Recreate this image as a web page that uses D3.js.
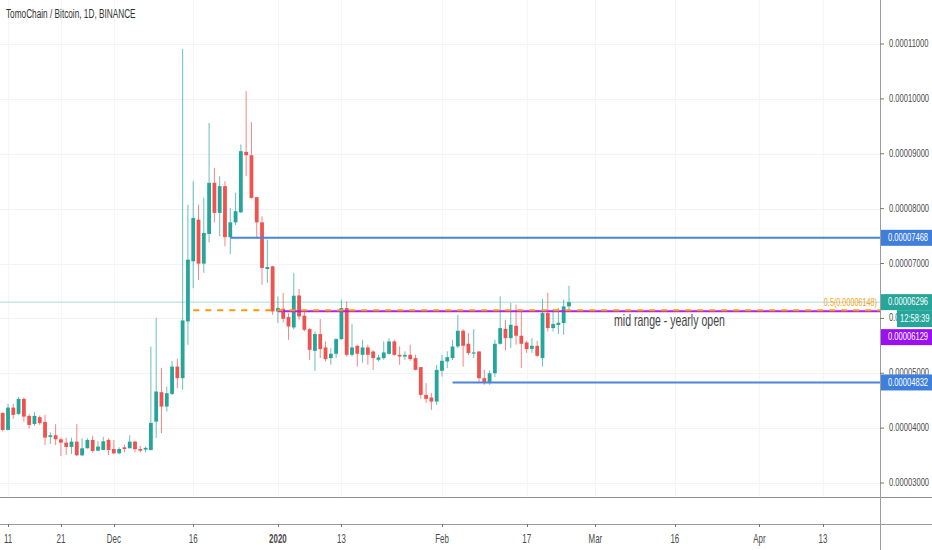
<!DOCTYPE html>
<html>
<head>
<meta charset="utf-8">
<script src="https://cdn.jsdelivr.net/npm/d3@7"></script>
<style>
  html, body { margin: 0; padding: 0; background: #fff; }
  svg { display: block; font-family: "Liberation Sans", Arial, sans-serif; }
</style>
</head>
<body>
<svg class="chart"></svg>
<script>
// daily candles, values in satoshi (1e-8 BTC)
var days = ['2019-11-10', '2019-11-11', '2019-11-12', '2019-11-13', '2019-11-14', '2019-11-15',
  '2019-11-16', '2019-11-17', '2019-11-18', '2019-11-19', '2019-11-20', '2019-11-21', '2019-11-22',
  '2019-11-23', '2019-11-24', '2019-11-25', '2019-11-26', '2019-11-27', '2019-11-28', '2019-11-29',
  '2019-11-30', '2019-12-01', '2019-12-02', '2019-12-03', '2019-12-04', '2019-12-05', '2019-12-06',
  '2019-12-07', '2019-12-08', '2019-12-09', '2019-12-10', '2019-12-11', '2019-12-12', '2019-12-13',
  '2019-12-14', '2019-12-15', '2019-12-16', '2019-12-17', '2019-12-18', '2019-12-19', '2019-12-20',
  '2019-12-21', '2019-12-22', '2019-12-23', '2019-12-24', '2019-12-25', '2019-12-26', '2019-12-27',
  '2019-12-28', '2019-12-29', '2019-12-30', '2019-12-31', '2020-01-01', '2020-01-02', '2020-01-03',
  '2020-01-04', '2020-01-05', '2020-01-06', '2020-01-07', '2020-01-08', '2020-01-09', '2020-01-10',
  '2020-01-11', '2020-01-12', '2020-01-13', '2020-01-14', '2020-01-15', '2020-01-16', '2020-01-17',
  '2020-01-18', '2020-01-19', '2020-01-20', '2020-01-21', '2020-01-22', '2020-01-23', '2020-01-24',
  '2020-01-25', '2020-01-26', '2020-01-27', '2020-01-28', '2020-01-29', '2020-01-30', '2020-01-31',
  '2020-02-01', '2020-02-02', '2020-02-03', '2020-02-04', '2020-02-05', '2020-02-06', '2020-02-07',
  '2020-02-08', '2020-02-09', '2020-02-10', '2020-02-11', '2020-02-12', '2020-02-13', '2020-02-14',
  '2020-02-15', '2020-02-16', '2020-02-17', '2020-02-18', '2020-02-19', '2020-02-20', '2020-02-21',
  '2020-02-22', '2020-02-23', '2020-02-24', '2020-02-25'];

var opens = [4277, 3967, 4374, 4259, 4533, 4223, 4076, 4199, 4113, 3840, 3870, 3797, 3735, 3657,
  3754, 3505, 3633, 3785, 3590, 3602, 3785, 3620, 3541, 3650, 3633, 3754, 3620, 3608, 3602, 4119,
  4655, 4393, 4624, 5122, 4910, 5944, 7040, 7800, 6997, 7538, 8470, 7922, 8410, 7480, 7750, 7933,
  9035, 8973, 8208, 7750, 6900, 6948, 6127, 6175, 6024, 5835, 6418, 6048, 5804, 5409, 5714, 5470,
  5276, 5355, 5622, 6188, 5336, 5500, 5336, 5470, 5397, 5245, 5276, 5355, 5580, 5336, 5305, 5336,
  5276, 5112, 4606, 4557, 4484, 5044, 5215, 5276, 5488, 5774, 5537, 5360, 5397, 4910, 4820, 5000,
  5537, 5810, 5640, 5865, 5683, 5560, 5445, 5500, 5276, 6097, 5823, 5880, 5915, 6218];

var highs = [4290, 4442, 4442, 4570, 4557, 4254, 4290, 4230, 4241, 3925, 4071, 3827, 3827, 3827,
  4077, 3816, 3816, 3863, 3760, 3840, 3816, 3785, 3650, 3700, 3870, 3770, 3675, 3665, 5487, 6011,
  5100, 4757, 5226, 5263, 10910, 8073, 8500, 8073, 8200, 9560, 8743, 8590, 8500, 8013, 8290, 9170,
  10141, 9575, 8210, 7860, 7435, 6960, 6400, 6462, 6097, 6830, 6535, 6157, 5823, 5762, 5988, 5580,
  5458, 5640, 6340, 6310, 5897, 5520, 5610, 5520, 5415, 5336, 5580, 5640, 5610, 5490, 5400, 5520,
  5336, 5112, 4820, 4637, 5154, 5336, 5400, 5610, 6066, 5805, 5732, 5805, 5397, 5062, 5050, 5610,
  6400, 5975, 6280, 6250, 6127, 5590, 5640, 5590, 6352, 6470, 6170, 6188, 6340, 6595];

var lows = [3940, 3960, 4168, 4241, 4119, 3998, 4040, 4058, 3690, 3710, 3690, 3490, 3510, 3530,
  3490, 3490, 3630, 3553, 3575, 3600, 3510, 3523, 3523, 3560, 3630, 3560, 3560, 3560, 3590, 3820,
  3910, 4300, 4600, 4730, 4700, 5518, 6550, 6700, 6830, 7385, 7750, 7495, 7312, 7170, 7700, 7920,
  8590, 8180, 7460, 6613, 6645, 6066, 5915, 5925, 5610, 5800, 5975, 5762, 5245, 5044, 5276, 5215,
  5154, 5276, 5610, 5305, 5305, 5120, 5190, 5154, 5062, 5215, 5245, 5336, 5320, 5154, 5245, 5227,
  5050, 4540, 4460, 4332, 4423, 4940, 5093, 5245, 5460, 5120, 5336, 5276, 4820, 4790, 4790, 4930,
  5520, 5415, 5460, 5520, 5093, 5370, 5370, 5293, 5120, 5760, 5760, 5715, 5700, 6127];

var closes = [3967, 4374, 4241, 4533, 4210, 4058, 4223, 4090, 3827, 3870, 3797, 3735, 3657, 3754,
  3505, 3633, 3785, 3584, 3663, 3760, 3602, 3541, 3620, 3620, 3754, 3615, 3590, 3640, 4095, 4667,
  4393, 4637, 5122, 4910, 5962, 7070, 7830, 6997, 7557, 8470, 7922, 8410, 7480, 7750, 7953, 9047,
  8973, 8195, 7750, 6918, 6936, 6127, 6188, 5993, 5853, 6413, 6035, 5792, 5427, 5714, 5440, 5257,
  5355, 5622, 6188, 5336, 5470, 5355, 5470, 5336, 5276, 5287, 5380, 5580, 5336, 5305, 5336, 5257,
  5062, 4606, 4533, 4484, 5062, 5227, 5293, 5488, 5774, 5500, 5367, 5380, 4910, 4820, 5000, 5537,
  5823, 5640, 5883, 5683, 5537, 5440, 5500, 5318, 6097, 5823, 5897, 5920, 6218, 6296];

var priceTicks = [3000, 4000, 5000, 6000, 7000, 8000, 9000, 10000, 11000];
var timeTicks = ['2019-11-11', '2019-11-21', '2019-12-01', '2019-12-16', '2020-01-01', '2020-01-13',
  '2020-02-01', '2020-02-17', '2020-03-01', '2020-03-16', '2020-04-01', '2020-04-13'];
var timeTickLabels = ['11', '21', 'Dec', '16', '2020', '13', 'Feb', '17', 'Mar', '16', 'Apr', '13'];

// drawn levels
var blueLevels = [7468, 4832];
var blueStarts = ['2019-12-23', '2020-02-03'];
var fibLevel = 6148;
var fibStart = '2019-12-16';
var fibLabel = '0.5(0.00006148)';
var yearlyOpen = 6129;
var yearlyStart = '2020-01-01';
var noteText = 'mid range - yearly open';
var lastPrice = 6296;
var countdown = '12:58:39';
var title = 'TomoChain / Bitcoin, 1D, BINANCE';

var width = 932, height = 550;
var plotRight = 880, paneBottom = 497, timeTop = 524;
var up = '#26a69a', down = '#ef5350';
var sx = 0.66; // text in the picture is horizontally squeezed

var parse = d3.utcParse('%Y-%m-%d');
var fmt = v => (v / 1e8).toFixed(8);

var x = d3.scaleUtc()
    .domain([parse('2019-11-11'), parse('2020-04-13')])
    .range([8, 823]);
var y = d3.scaleLinear().domain([3000, 11000]).range([483, 44]);

var svg = d3.select('.chart').attr('width', width).attr('height', height);

function squeezedText(parent, tx, ty, str, size, color, anchor) {
  var g = parent.append('g')
      .attr('transform', 'translate(' + tx + ',' + ty + ') scale(' + sx + ',1)');
  return g.append('text')
      .attr('dominant-baseline', 'middle')
      .attr('text-anchor', anchor || 'start')
      .style('font-size', size + 'px')
      .style('fill', color)
      .text(str);
}

var defs = svg.append('defs');
defs.append('clipPath').attr('id', 'pane')
    .append('rect').attr('x', 0).attr('y', 0).attr('width', plotRight).attr('height', paneBottom);

// grid
svg.append('g').selectAll('line').data(priceTicks).join('line')
    .attr('x1', 0).attr('x2', plotRight)
    .attr('y1', d => Math.round(y(d)) + 0.5).attr('y2', d => Math.round(y(d)) + 0.5)
    .style('stroke', '#f1f3f6');
svg.append('g').selectAll('line').data(timeTicks).join('line')
    .attr('x1', d => Math.round(x(parse(d))) + 0.5).attr('x2', d => Math.round(x(parse(d))) + 0.5)
    .attr('y1', 0).attr('y2', paneBottom)
    .style('stroke', '#f4f5f8');

var pane = svg.append('g').attr('clip-path', 'url(#pane)');

// last price line
pane.append('line')
    .attr('x1', 0).attr('x2', plotRight)
    .attr('y1', y(lastPrice)).attr('y2', y(lastPrice))
    .style('stroke', '#a9dcd6').style('stroke-width', 1);

// candles
var candles = days.map((d, i) => ({
  date: parse(d), o: opens[i], h: highs[i], l: lows[i], c: closes[i]
}));
var bodyW = 3.8;

pane.append('g').selectAll('line').data(candles).join('line')
    .attr('x1', d => x(d.date)).attr('x2', d => x(d.date))
    .attr('y1', d => y(d.h)).attr('y2', d => y(d.l))
    .style('stroke', d => d.c >= d.o ? up : down)
    .style('stroke-opacity', 0.7)
    .style('stroke-width', 1);

pane.append('g').selectAll('rect').data(candles).join('rect')
    .attr('x', d => x(d.date) - bodyW / 2)
    .attr('y', d => y(Math.max(d.o, d.c)))
    .attr('width', bodyW)
    .attr('height', d => Math.max(1.2, Math.abs(y(d.o) - y(d.c))))
    .style('fill', d => d.c >= d.o ? up : down);

// horizontal levels
pane.append('g').selectAll('line').data(blueLevels).join('line')
    .attr('x1', (d, i) => x(parse(blueStarts[i]))).attr('x2', plotRight)
    .attr('y1', d => y(d)).attr('y2', d => y(d))
    .style('stroke', '#4a85db').style('stroke-width', 2);

pane.append('line')
    .attr('x1', x(parse(yearlyStart))).attr('x2', plotRight)
    .attr('y1', y(yearlyOpen)).attr('y2', y(yearlyOpen))
    .style('stroke', '#b21ef0').style('stroke-width', 2);

pane.append('line')
    .attr('x1', x(parse(fibStart))).attr('x2', plotRight)
    .attr('y1', y(fibLevel)).attr('y2', y(fibLevel))
    .style('stroke', '#ff9800').style('stroke-width', 2)
    .style('stroke-dasharray', '6,6');

squeezedText(svg, plotRight - 3, y(fibLevel) - 7, fibLabel, 11, '#f5a623', 'end');
squeezedText(svg, 614, 322, noteText, 16, '#444');

// title
squeezedText(svg, 6, 15, title, 12.5, '#333');

// frame lines
svg.append('line').attr('x1', 0).attr('x2', width)
    .attr('y1', paneBottom + 0.5).attr('y2', paneBottom + 0.5)
    .style('stroke', '#8f8f8f');
svg.append('line').attr('x1', 0).attr('x2', width)
    .attr('y1', timeTop + 0.5).attr('y2', timeTop + 0.5)
    .style('stroke', '#9c9c9c');
svg.append('line').attr('x1', plotRight + 0.5).attr('x2', plotRight + 0.5)
    .attr('y1', 0).attr('y2', height)
    .style('stroke', '#9c9c9c');

// time axis
var tAxis = svg.append('g');
tAxis.selectAll('line').data(timeTicks).join('line')
    .attr('x1', d => Math.round(x(parse(d))) + 0.5).attr('x2', d => Math.round(x(parse(d))) + 0.5)
    .attr('y1', timeTop).attr('y2', timeTop + 3)
    .style('stroke', '#777');
timeTicks.forEach((d, i) => {
  var t = squeezedText(tAxis, x(parse(d)), 540, timeTickLabels[i], 12, '#4a4a4a', 'middle');
  if (timeTickLabels[i] === '2020') t.style('font-weight', 'bold');
});

// price axis; the part of the 0.00006000 label under the countdown box is clipped away
var cdTop = y(lastPrice) + 8;
defs.append('clipPath').attr('id', 'axisVisible')
    .append('path')
    .attr('clip-rule', 'evenodd')
    .attr('d', 'M' + plotRight + ',0H' + width + 'V' + height + 'H' + plotRight + 'Z' +
        'M897,' + cdTop + 'H' + width + 'V' + (cdTop + 19) + 'H897Z');
var pAxis = svg.append('g');
pAxis.selectAll('line').data(priceTicks).join('line')
    .attr('x1', plotRight).attr('x2', plotRight + 4)
    .attr('y1', d => y(d)).attr('y2', d => y(d))
    .style('stroke', '#777');
var pLabels = pAxis.append('g').attr('clip-path', 'url(#axisVisible)');
priceTicks.forEach(d => {
  squeezedText(pLabels, 889, y(d), fmt(d), 11.5, '#4a4a4a');
});

// price tags
function priceTag(value, cy, bg, x0) {
  var x1 = x0 || plotRight + 1;
  svg.append('rect')
      .attr('x', x1).attr('y', cy - 8)
      .attr('width', width - x1).attr('height', 16)
      .style('fill', bg);
  squeezedText(svg, x1 + (x0 ? 3 : 7), cy, value, 11.5, '#fff');
}
priceTag(fmt(blueLevels[0]), y(blueLevels[0]), '#3f7fdc');
priceTag(fmt(blueLevels[1]), y(blueLevels[1]), '#3f7fdc');
priceTag(fmt(lastPrice), y(lastPrice), '#26a69a');
priceTag(countdown, y(lastPrice) + 17, '#26a69a', 897);
svg.append('rect').attr('x', 897).attr('y', y(lastPrice) + 8)
    .attr('width', 35).attr('height', 2).style('fill', '#26a69a');
priceTag(fmt(yearlyOpen), y(lastPrice) + 35, '#9a10f0');
</script>
</body>
</html>
